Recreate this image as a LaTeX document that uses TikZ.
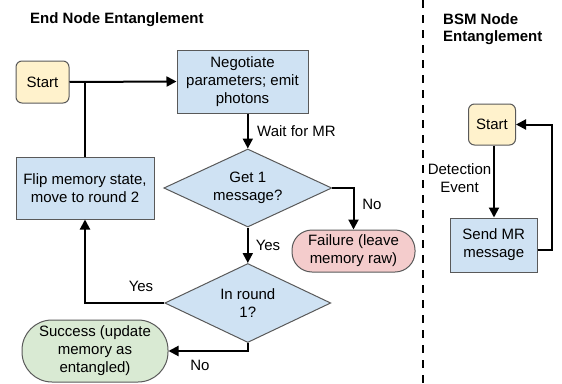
\documentclass[tikz,border=0pt]{standalone}
\usepackage{fontspec}
\setmainfont{Liberation Sans}
\usetikzlibrary{shapes.geometric,arrows.meta}
\definecolor{bluef}{HTML}{CFE2F3}
\definecolor{yellowf}{HTML}{FFF2CC}
\definecolor{pinkf}{HTML}{F4CCCC}
\definecolor{greenf}{HTML}{D9EAD3}
\definecolor{bordc}{HTML}{595959}
\tikzset{
  base/.style={draw=bordc, line width=1pt, inner sep=0pt, align=center, font=\fontsize{15}{18}\selectfont},
  procbox/.style={base, fill=bluef},
  startbox/.style={base, fill=yellowf, rounded corners=6pt},
  failbox/.style={base, fill=pinkf, rounded corners=20pt},
  succbox/.style={base, fill=greenf, rounded corners=30pt},
  decis/.style={base, fill=bluef, diamond, shape aspect=2.15},
  lbl/.style={inner sep=0pt, align=center, font=\fontsize{15}{18}\selectfont},
  ttl/.style={inner sep=0pt, align=left, font=\fontsize{15}{17}\selectfont\bfseries},
  conn/.style={line width=2pt, black},
  arr/.style={conn, -{Triangle[length=10pt,width=10pt]}},
}
\begin{document}
\begin{tikzpicture}[x=1pt,y=-1pt]
\useasboundingbox (0,0) rectangle (562,383);
% titles
\node[ttl, anchor=west] (t1) at (30,20) {End Node Entanglement};
\node[ttl, anchor=west] (t2) at (443,29) {BSM Node\\Entanglement};
% separator
\draw[line width=2pt, dash pattern=on 8pt off 7pt] (422.5,0) -- (422.5,383);
% left nodes
\node[startbox, minimum width=53pt, minimum height=42pt] (start) at (42.5,82) {Start};
\node[procbox, minimum width=131pt, minimum height=63pt] (neg) at (242.5,81.5) {Negotiate\\parameters; emit\\photons};
\node[procbox, minimum width=138pt, minimum height=62pt] (flip) at (85,188) {Flip memory state,\\move to round 2};
\node[decis, minimum width=168pt, minimum height=78pt] (g1) at (247.8,188) {Get 1\\message?};
\node[failbox, minimum width=123pt, minimum height=42pt] (fail) at (353.5,251) {Failure (leave\\memory raw)};
\node[decis, minimum width=166pt, minimum height=79pt] (r1) at (247.8,303) {In round\\1?};
\node[succbox, minimum width=146pt, minimum height=62pt] (succ) at (95,351) {Success (update\\memory as\\entangled)};
% right nodes
\node[startbox, minimum width=47pt, minimum height=41pt] (bstart) at (492,124.5) {Start};
\node[procbox, minimum width=87pt, minimum height=54pt] (send) at (493.7,245) {Send MR\\message};
% connectors left
\draw[arr] (start.east) -- (neg.west);
\draw[conn] (flip.north) -- (flip.north |- start.east);
\draw[arr] (g1.north |- neg.south) -- (g1.north);
\draw[arr] (g1.east) -| (fail.north);
\draw[arr] (g1.south) -- (r1.north);
\draw[arr] (r1.west) -| (flip.south);
\draw[arr] (r1.south) |- (succ.east);
% connectors right
\draw[arr] (bstart.south -| 494,0) -- (send.north -| 494,0);
\draw[arr] ([yshift=-5pt]send.east) -- ++(14,0) |- (bstart.east);
% labels
\node[lbl, anchor=west] (lw) at (257,131) {Wait for MR};
\node[lbl] (ln1) at (372,204) {No};
\node[lbl] (ly1) at (268,245) {Yes};
\node[lbl] (ly2) at (141,286) {Yes};
\node[lbl] (ln2) at (200,365) {No};
\node[lbl] (ld) at (459.5,178) {Detection\\Event};
\end{tikzpicture}
\end{document}
